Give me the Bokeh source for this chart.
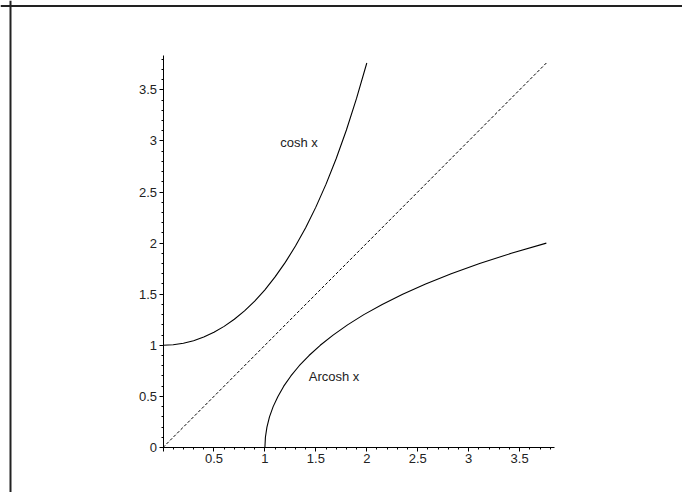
from bokeh.plotting import figure
from bokeh.models import LinearAxis, FixedTicker, Span, Range1d
from bokeh.embed import file_html
from bokeh.resources import INLINE
from bokeh.core.properties import value

cosh_x = [0.0, 0.1, 0.2, 0.3, 0.4, 0.5, 0.6, 0.7, 0.8, 0.9, 1.0,
          1.1, 1.2, 1.3, 1.4, 1.5, 1.6, 1.7, 1.8, 1.9, 2.0]
cosh_y = [1.000, 1.005, 1.020, 1.045, 1.081, 1.128, 1.185, 1.255, 1.337, 1.433, 1.543,
          1.669, 1.811, 1.971, 2.151, 2.352, 2.577, 2.828, 3.107, 3.418, 3.762]
# Arcosh x (inverse: mirrored values)
arcosh_x = [1.000, 1.005, 1.020, 1.045, 1.081, 1.128, 1.185, 1.255, 1.337, 1.433, 1.543,
            1.669, 1.811, 1.971, 2.151, 2.352, 2.577, 2.828, 3.107, 3.418, 3.762]
arcosh_y = [0.0, 0.1, 0.2, 0.3, 0.4, 0.5, 0.6, 0.7, 0.8, 0.9, 1.0,
            1.1, 1.2, 1.3, 1.4, 1.5, 1.6, 1.7, 1.8, 1.9, 2.0]
# y = x reference line
diag_x = [0.0, 3.762]
diag_y = [0.0, 3.762]

labels = ["cosh x", "Arcosh x"]
label_x = [1.15, 1.43]
label_y = [2.98, 0.69]

major_ticks = [0.0, 0.5, 1.0, 1.5, 2.0, 2.5, 3.0, 3.5]
minor_ticks = [round(0.1 * i, 1) for i in range(0, 39)]
x_tick_labels = {0.0: "", 0.5: "0.5", 1.0: "1", 1.5: "1.5", 2.0: "2", 2.5: "2.5", 3.0: "3", 3.5: "3.5"}
y_tick_labels = {0.0: "0", 0.5: "0.5", 1.0: "1", 1.5: "1.5", 2.0: "2", 2.5: "2.5", 3.0: "3", 3.5: "3.5"}
axis_end = 3.84

W, H = 682, 492
ox, oy = 162.5, 447.0   # canvas pixel of origin
sx, sy = 101.9, 102.2   # pixels per unit

p = figure(width=W, height=H, output_backend="svg", toolbar_location=None,
           x_axis_type=None, y_axis_type=None, title=None,
           x_range=Range1d(-ox / sx, (W - ox) / sx),
           y_range=Range1d(-(H - oy) / sy, oy / sy),
           min_border=0, min_border_left=0, min_border_right=0,
           min_border_top=0, min_border_bottom=0)
p.grid.visible = False
p.outline_line_color = None
p.background_fill_color = "white"
p.border_fill_color = "white"

font = value("Liberation Sans")

def style(ax, minor_out):
    ax.axis_line_color = "black"
    ax.axis_line_width = 1
    ax.major_tick_in = 0
    ax.major_tick_out = 4
    ax.minor_tick_in = 0
    ax.minor_tick_out = minor_out
    ax.major_tick_line_color = "black"
    ax.minor_tick_line_color = "black"
    ax.major_label_text_font = "Liberation Sans"
    ax.major_label_text_font_size = "13px"
    ax.major_label_text_color = "#222222"
    ax.major_label_standoff = 2

xaxis = LinearAxis(fixed_location=0, bounds=(0, axis_end),
                   ticker=FixedTicker(ticks=major_ticks, minor_ticks=minor_ticks),
                   major_label_overrides=x_tick_labels)
style(xaxis, 2)
yaxis = LinearAxis(fixed_location=0, bounds=(0, axis_end),
                   ticker=FixedTicker(ticks=major_ticks, minor_ticks=minor_ticks),
                   major_label_overrides=y_tick_labels)
style(yaxis, 2)
p.add_layout(xaxis, "below")
p.add_layout(yaxis, "left")

p.line(cosh_x, cosh_y, line_color="black", line_width=1.1)
p.line(arcosh_x, arcosh_y, line_color="black", line_width=1.1)
p.line(diag_x, diag_y, line_color="black", line_width=1, line_dash="3 2")

p.text(label_x, label_y, text=labels, text_font=font, text_font_size="13px",
       text_color="#222222", text_align="left", text_baseline="middle")

# outer frame (left and top edges)
p.add_layout(Span(location=(10 - ox) / sx, dimension="height", line_color="#222222", line_width=2))
p.add_layout(Span(location=(oy - 5.5) / sy, dimension="width", line_color="#222222", line_width=2))

open("out.html", "w").write(file_html(p, INLINE))
